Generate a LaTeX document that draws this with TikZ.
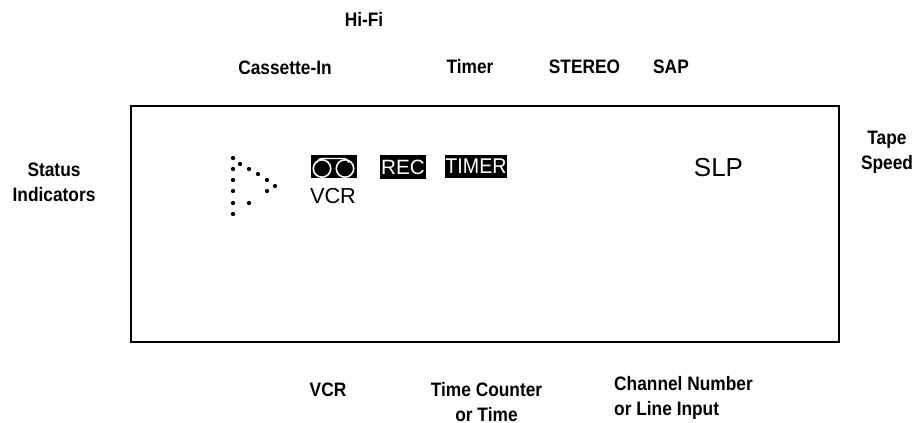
\documentclass[tikz,border=0pt]{standalone}
\usepackage{fontspec}
\setmainfont{Liberation Sans}
\newfontfamily\lblfont[FakeStretch=0.89]{Liberation Sans Bold}
\newfontfamily\tmrfont[FakeStretch=0.92]{Liberation Sans}
\usepackage{xcolor}
\usepackage{tikz}
\tikzset{
lbl/.style={font=\lblfont\fontsize{14.6pt}{18.75pt}\selectfont,align=center,inner sep=0pt},
disp/.style={font=\fontsize{16.3pt}{18pt}\selectfont,inner sep=0pt},
inv/.style={fill=black,text=white,inner sep=0pt,font=\fontsize{15.5pt}{18pt}\selectfont},
pix/.style={shape=circle,fill=black,inner sep=0pt,minimum size=3.2pt}
}
\begin{document}
\begin{tikzpicture}[x=0.75pt,y=-0.75pt]
\useasboundingbox(0,0)rectangle(915,423);
\draw[line width=1.5pt](130.5,106)rectangle(839,342.5);
% labels round the panel
\node[lbl](hifi)at(364,19){Hi-Fi};
\node[lbl](cassette)at(285,68){Cassette-In};
\node[lbl](timer)at(470,67){Timer};
\node[lbl](stereo)at(584.5,67){STEREO};
\node[lbl](sap)at(671,67){SAP};
\node[lbl](status)at(54,182){Status\\Indicators};
\node[lbl](speed)at(887,152.5){Tape\\Speed};
\node[lbl](vcr)at(328,390){VCR};
\node[lbl](counter)at(486.5,402.5){Time Counter\\or Time};
\node[lbl,align=left](channel)at(683.5,397.5){Channel Number\\or Line Input};
% inside the panel
\node[inv,minimum width=34.5pt,minimum height=17.5pt](tape)at(334,166.5){};
\draw[white,line width=1.2pt](tape.center)++(-12,2)circle(8.7)++(23,0)circle(8.7);
\draw[white,line width=1.1pt,rounded corners=2pt](tape.center)++(-17,-4)--++(2,-4)--++(27,0)--++(3,4);
\node[inv,minimum width=34.5pt,minimum height=18pt](rec)at(403,167){REC};
\node[inv,font=\tmrfont\fontsize{16pt}{18pt}\selectfont,minimum width=46.5pt,minimum height=17pt](tmr)at(476,166.5){TIMER};
\node[disp](vcrdisp)at(333,196){VCR};
\node[disp,font=\fontsize{19.5pt}{22pt}\selectfont](slp)at(718.5,167.5){SLP};
% dotted triangle
\foreach \px/\py in {233/158,233/169,233/180,233/191,233/203,233/214,240/164,249/169,258/174,267/180,275/186,267/191,249/203}
\node[pix](p\px\py)at(\px,\py){};
\end{tikzpicture}
\end{document}
